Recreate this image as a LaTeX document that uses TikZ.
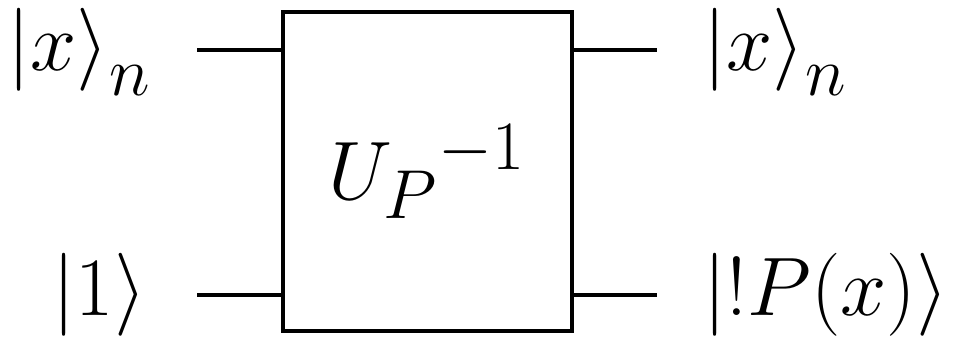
\documentclass[tikz,border=0pt]{standalone}
\usepackage{fix-cm}
\usepackage{amsmath}
\DeclareMathSizes{23.6}{23.6}{19.7}{16.4}
\usetikzlibrary{positioning,calc}

\begin{document}
\begin{tikzpicture}[
  x=0.01cm, y=-0.01cm,
  every node/.style={font=\fontsize{23.6}{28}\selectfont, inner sep=0pt},
  gate/.style={rectangle, draw, line width=1.1pt, minimum width=2.89cm, minimum height=3.19cm},
  wire/.style={line width=1.1pt}
]
\useasboundingbox (0,0) rectangle (958,340);

% Gate
\node[gate] (U) at (427.5,171.5) {\raisebox{-0.1cm}{${U_P}^{-1}$}};

% Wire ends
\coordinate (inA) at (197,50);
\coordinate (inB) at (197,295);
\coordinate (outA) at (657,50);
\coordinate (outB) at (657,295);

% Labels
\node[anchor=base east] (xin) at ($(inA)+(-45,21)$) {$\left|x\right\rangle_n$};
\node[anchor=base east] (oin) at ($(inB)+(-50,21)$) {$|1\rangle$};
\node[anchor=base west] (xout) at ($(outA)+(46,21)$) {$\left|x\right\rangle_n$};
\node[anchor=base west] (pout) at ($(outB)+(46,21)$) {$|!P(x)\rangle$};

% Wires
\draw[wire] (inA) -- (U.west |- inA);
\draw[wire] (inB) -- (U.west |- inB);
\draw[wire] (U.east |- outA) -- (outA);
\draw[wire] (U.east |- outB) -- (outB);

\end{tikzpicture}
\end{document}
